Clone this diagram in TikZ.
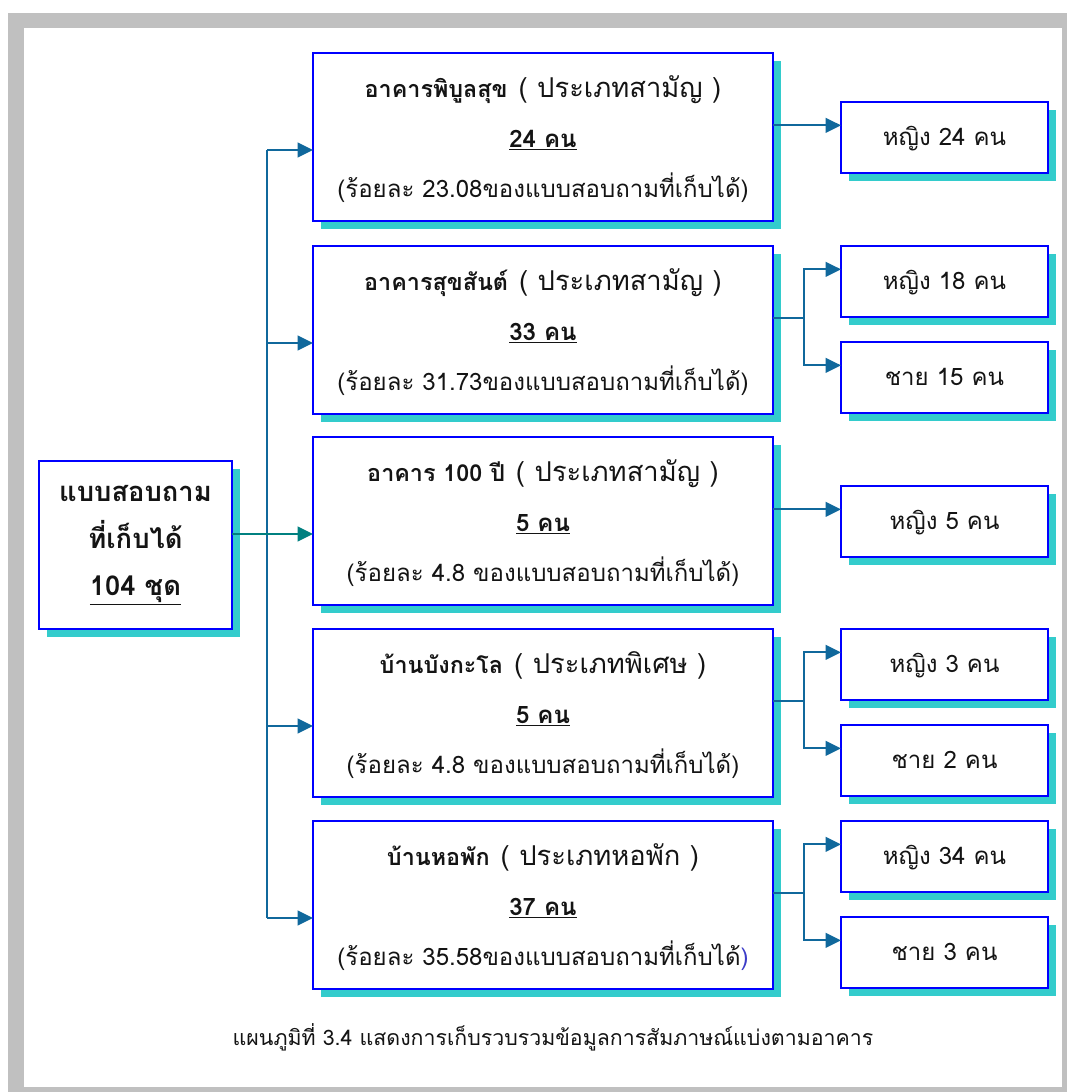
\documentclass[tikz,border=0pt]{standalone}
\usepackage{fontspec}
\setmainfont[Script=Thai]{Loma}
\usetikzlibrary{arrows.meta,shadows}
\definecolor{framegray}{RGB}{192,192,192}
\definecolor{boxblue}{RGB}{0,0,255}
\definecolor{shcol}{RGB}{51,204,204}
\definecolor{conn}{RGB}{16,104,156}
\definecolor{conntwo}{RGB}{0,128,128}
\definecolor{ink}{RGB}{20,20,20}
\definecolor{parblue}{RGB}{60,60,200}
\tikzset{
  boxbase/.style={draw=boxblue, line width=1.8pt, fill=white, inner sep=0pt, outer sep=0pt,
    anchor=north west, drop shadow={shadow xshift=6pt, shadow yshift=-6pt, opacity=1, fill=shcol}},
  bigbox/.style={boxbase, minimum width=345pt, minimum height=126pt},
  smallbox/.style={boxbase, minimum width=155.25pt, minimum height=53.25pt},
  mainbox/.style={boxbase, minimum width=144.75pt, minimum height=126pt},
  txt/.style={anchor=base, inner sep=0pt, text=ink, font=\fontsize{18}{20}\selectfont},
  maintxt/.style={txt, font=\fontsize{20.5}{24}\selectfont\bfseries},
  captxt/.style={txt, font=\fontsize{16}{18}\selectfont},
  link/.style={draw=conn, line width=1.5pt},
  arr/.style={link, -{Triangle[length=11.5pt,width=11pt]}},
}
\newcommand\kind[1]{{\fontsize{20.5}{22}\selectfont\hspace{0.4em}(\hspace{0.35em}#1\hspace{0.35em})}}
\newcommand\mkbig[5]{%
  \node[bigbox] (#1) at (313,#2) {};
  \node[txt] (#1t) at (543,{#2+44}) {{\fontsize{17.5}{20}\selectfont\bfseries #3}};
  \node[txt] (#1c) at (543,{#2+94}) {\underline{\bfseries #4}};
  \node[txt] (#1p) at (543,{#2+144}) {#5};
}
\newcommand\mksmall[3]{%
  \node[smallbox] (#1) at (841,#2) {};
  \node[txt] (#1t) at (944.5,{#2+43}) {#3};
  \coordinate (#1q) at ([yshift=-17.5pt]#1.north west);
}
\begin{document}
\begin{tikzpicture}[x=0.75pt, y=-0.75pt]
\useasboundingbox (0,0) rectangle (1067,1092);
\fill[framegray] (8,13) rectangle (1067,1092);
\fill[white] (24,28) rectangle (1062,1087);

% main box
\node[mainbox] (main) at (39,461) {};
\node[maintxt] (m1) at (135.5,501.7) {แบบสอบถาม};
\node[maintxt] (m2) at (135.5,548) {ที่เก็บได้};
\node[maintxt] (m3) at (135.5,595) {\underline{104 ชุด}};

% big boxes
\mkbig{b1}{53}{อาคารพิบูลสุข\mdseries\kind{ประเภทสามัญ}}{24 คน}{(ร้อยละ 23.08ของแบบสอบถามที่เก็บได้)}
\mkbig{b2}{246}{อาคารสุขสันต์\mdseries\kind{ประเภทสามัญ}}{33 คน}{(ร้อยละ 31.73ของแบบสอบถามที่เก็บได้)}
\mkbig{b3}{437}{อาคาร 100 ปี\mdseries\kind{ประเภทสามัญ}}{5 คน}{(ร้อยละ 4.8 ของแบบสอบถามที่เก็บได้)}
\mkbig{b4}{629}{บ้านบังกะโล\mdseries\kind{ประเภทพิเศษ}}{5 คน}{(ร้อยละ 4.8 ของแบบสอบถามที่เก็บได้)}
\mkbig{b5}{821}{บ้านหอพัก\mdseries\kind{ประเภทหอพัก}}{37 คน}{(ร้อยละ 35.58ของแบบสอบถามที่เก็บได้\textcolor{parblue}{)}}

% small boxes
\mksmall{s1}{102}{หญิง 24 คน}
\mksmall{s2a}{246}{หญิง 18 คน}
\mksmall{s2b}{342}{ชาย 15 คน}
\mksmall{s3}{486}{หญิง 5 คน}
\mksmall{s4a}{629}{หญิง 3 คน}
\mksmall{s4b}{725}{ชาย 2 คน}
\mksmall{s5a}{821}{หญิง 34 คน}
\mksmall{s5b}{917}{ชาย 3 คน}

% trunk
\coordinate (t1) at (267,150);
\coordinate (t2) at (267,343);
\coordinate (j)  at (267,534);
\coordinate (t4) at (267,726);
\coordinate (t5) at (267,918);
\draw[link] (t1) -- (t5);
\draw[link, draw=conntwo] (main.east |- j) -- (j);
\draw[arr] (t1) -- (b1.west |- t1);
\draw[arr] (t2) -- (b2.west |- t2);
\draw[arr, draw=conntwo] (j) -- (b3.west |- j);
\draw[arr] (t4) -- (b4.west |- t4);
\draw[arr] (t5) -- (b5.west |- t5);

% right side
\draw[arr] (b1.east |- s1q) -- (s1q);
\draw[arr] (b3.east |- s3q) -- (s3q);
\coordinate (k2) at (804,318);
\coordinate (k4) at (804,701);
\coordinate (k5) at (804,893);
\draw[link] (b2.east |- k2) -- (k2);
\draw[arr] (k2) |- (s2aq);
\draw[arr] (k2) |- (s2bq);
\draw[link] (b4.east |- k4) -- (k4);
\draw[arr] (k4) |- (s4aq);
\draw[arr] (k4) |- (s4bq);
\draw[link] (b5.east |- k5) -- (k5);
\draw[arr] (k5) |- (s5aq);
\draw[arr] (k5) |- (s5bq);

% caption
\node[captxt] (cap) at (553,1045) {แผนภูมิที่ 3.4 แสดงการเก็บรวบรวมข้อมูลการสัมภาษณ์แบ่งตามอาคาร};
\end{tikzpicture}
\end{document}
